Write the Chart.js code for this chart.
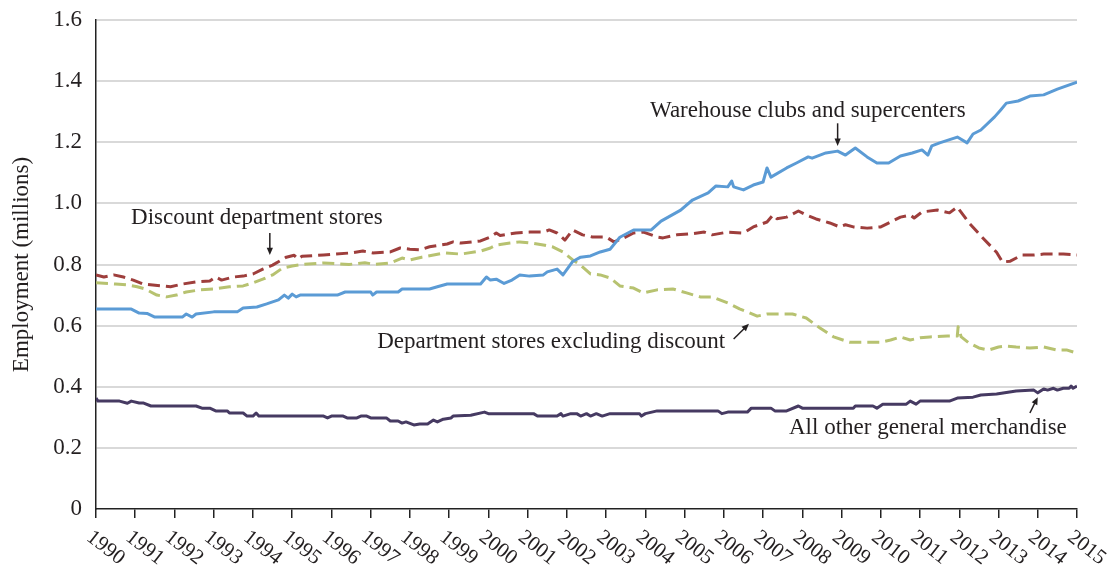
<!DOCTYPE html>
<html>
<head>
<meta charset="utf-8">
<script src="https://cdn.jsdelivr.net/npm/chart.js@4.4.1/dist/chart.umd.min.js"></script>
<style>
  html, body { margin: 0; padding: 0; background: #fff; }
  #wrap { width: 1114px; height: 575px; }
</style>
</head>
<body>
<div id="wrap"><canvas id="employmentChart" width="1114" height="575"></canvas></div>
<script>
// Employment by store type, millions
const whseYears = [1990.0, 1990.9, 1991.1, 1991.3, 1991.5, 1992.2, 1992.3, 1992.45, 1992.55, 1993.0, 1993.6, 1993.75, 1994.1, 1994.35, 1994.65, 1994.8, 1994.9, 1995.0, 1995.1, 1995.2, 1996.15, 1996.35, 1997.0, 1997.05, 1997.15, 1997.7, 1997.8, 1998.5, 1998.7, 1998.95, 1999.8, 1999.95, 2000.05, 2000.2, 2000.4, 2000.6, 2000.8, 2001.05, 2001.4, 2001.5, 2001.75, 2001.9, 2002.15, 2002.35, 2002.6, 2002.85, 2003.1, 2003.35, 2003.7, 2004.15, 2004.4, 2004.9, 2005.2, 2005.6, 2005.8, 2006.1, 2006.2, 2006.25, 2006.5, 2006.75, 2007.0, 2007.1, 2007.2, 2007.6, 2007.85, 2008.15, 2008.25, 2008.6, 2008.9, 2009.1, 2009.35, 2009.65, 2009.9, 2010.2, 2010.5, 2010.8, 2011.05, 2011.2, 2011.3, 2011.5, 2011.95, 2012.2, 2012.35, 2012.55, 2012.9, 2013.05, 2013.2, 2013.5, 2013.8, 2014.15, 2014.5, 2015.0];
const whseValues = [0.654, 0.654, 0.641, 0.640, 0.628, 0.628, 0.638, 0.628, 0.638, 0.645, 0.645, 0.658, 0.661, 0.671, 0.684, 0.700, 0.690, 0.703, 0.694, 0.700, 0.700, 0.710, 0.710, 0.700, 0.710, 0.710, 0.720, 0.720, 0.727, 0.736, 0.736, 0.759, 0.749, 0.752, 0.738, 0.749, 0.766, 0.762, 0.766, 0.776, 0.785, 0.766, 0.810, 0.824, 0.828, 0.841, 0.850, 0.889, 0.913, 0.913, 0.942, 0.978, 1.011, 1.034, 1.057, 1.054, 1.073, 1.054, 1.044, 1.060, 1.070, 1.116, 1.086, 1.116, 1.132, 1.152, 1.148, 1.165, 1.171, 1.158, 1.181, 1.152, 1.132, 1.132, 1.155, 1.165, 1.175, 1.158, 1.188, 1.198, 1.217, 1.198, 1.227, 1.240, 1.283, 1.305, 1.328, 1.335, 1.351, 1.355, 1.374, 1.397];

const discYears = [1990.0, 1990.2, 1990.45, 1990.7, 1990.95, 1991.2, 1991.9, 1992.2, 1992.55, 1992.9, 1993.05, 1993.2, 1993.5, 1993.75, 1994.0, 1994.25, 1994.5, 1994.85, 1995.05, 1995.15, 1995.25, 1995.8, 1996.5, 1996.8, 1997.05, 1997.5, 1997.75, 1998.0, 1998.25, 1998.5, 1998.95, 1999.1, 1999.3, 1999.8, 2000.05, 2000.2, 2000.3, 2000.7, 2001.05, 2001.4, 2001.55, 2001.75, 2001.95, 2002.15, 2002.4, 2002.65, 2003.0, 2003.2, 2003.45, 2003.7, 2003.95, 2004.3, 2004.45, 2004.8, 2005.15, 2005.5, 2005.7, 2006.1, 2006.5, 2006.75, 2007.1, 2007.25, 2007.35, 2007.6, 2007.9, 2008.1, 2008.35, 2008.7, 2008.95, 2009.1, 2009.3, 2009.65, 2010.0, 2010.25, 2010.5, 2010.75, 2010.85, 2011.05, 2011.45, 2011.75, 2011.95, 2012.25, 2012.6, 2012.95, 2013.1, 2013.3, 2013.6, 2013.9, 2014.15, 2014.65, 2015.0];
const discValues = [0.766, 0.759, 0.766, 0.759, 0.749, 0.736, 0.727, 0.736, 0.743, 0.746, 0.759, 0.749, 0.759, 0.762, 0.769, 0.785, 0.798, 0.824, 0.830, 0.818, 0.827, 0.831, 0.838, 0.844, 0.838, 0.841, 0.854, 0.850, 0.848, 0.858, 0.867, 0.874, 0.870, 0.877, 0.890, 0.903, 0.895, 0.903, 0.906, 0.906, 0.913, 0.903, 0.880, 0.913, 0.897, 0.890, 0.890, 0.874, 0.887, 0.903, 0.906, 0.890, 0.887, 0.897, 0.900, 0.906, 0.897, 0.906, 0.903, 0.923, 0.939, 0.962, 0.950, 0.955, 0.975, 0.962, 0.949, 0.936, 0.923, 0.930, 0.923, 0.919, 0.923, 0.939, 0.955, 0.962, 0.952, 0.972, 0.978, 0.969, 0.988, 0.936, 0.887, 0.840, 0.808, 0.811, 0.831, 0.831, 0.834, 0.834, 0.831];

const deptYears = [1990.0, 1990.5, 1990.8, 1991.05, 1991.25, 1991.55, 1991.8, 1992.05, 1992.3, 1992.65, 1993.0, 1993.4, 1993.75, 1994.0, 1994.25, 1994.5, 1994.75, 1995.0, 1995.25, 1995.8, 1996.45, 1996.85, 1997.1, 1997.5, 1997.8, 1998.0, 1998.3, 1998.9, 1999.3, 1999.8, 2000.05, 2000.2, 2000.55, 2000.8, 2001.1, 2001.4, 2001.65, 2001.9, 2002.15, 2002.35, 2002.6, 2002.85, 2003.1, 2003.35, 2003.7, 2003.95, 2004.3, 2004.7, 2005.05, 2005.4, 2005.7, 2006.1, 2006.4, 2006.6, 2006.85, 2007.1, 2007.75, 2008.1, 2008.45, 2008.8, 2009.2, 2010.0, 2010.25, 2010.5, 2010.75, 2011.0, 2011.25, 2011.7, 2011.95, 2011.97, 2012.05, 2012.25, 2012.5, 2012.75, 2013.0, 2013.2, 2013.45, 2013.8, 2014.15, 2014.5, 2014.75, 2015.0];
const deptValues = [0.740, 0.736, 0.733, 0.727, 0.720, 0.700, 0.694, 0.700, 0.710, 0.717, 0.720, 0.727, 0.730, 0.740, 0.752, 0.766, 0.788, 0.795, 0.800, 0.805, 0.800, 0.806, 0.800, 0.805, 0.821, 0.815, 0.824, 0.838, 0.834, 0.844, 0.854, 0.864, 0.870, 0.874, 0.870, 0.864, 0.857, 0.841, 0.815, 0.798, 0.769, 0.766, 0.756, 0.730, 0.723, 0.707, 0.717, 0.720, 0.707, 0.694, 0.694, 0.674, 0.655, 0.645, 0.631, 0.638, 0.638, 0.625, 0.592, 0.563, 0.546, 0.546, 0.553, 0.563, 0.553, 0.560, 0.563, 0.566, 0.566, 0.596, 0.563, 0.543, 0.527, 0.520, 0.530, 0.533, 0.530, 0.527, 0.530, 0.520, 0.520, 0.510];

const otherYears = [1990.0, 1990.05, 1990.6, 1990.8, 1990.9, 1991.1, 1991.2, 1991.4, 1992.55, 1992.7, 1992.9, 1993.05, 1993.35, 1993.4, 1993.75, 1993.85, 1994.0, 1994.08, 1994.15, 1995.8, 1995.9, 1996.0, 1996.3, 1996.4, 1996.65, 1996.75, 1996.9, 1997.0, 1997.4, 1997.5, 1997.7, 1997.8, 1997.9, 1998.1, 1998.25, 1998.45, 1998.6, 1998.7, 1998.85, 1999.05, 1999.1, 1999.55, 1999.9, 2000.0, 2001.15, 2001.25, 2001.75, 2001.85, 2001.9, 2002.1, 2002.25, 2002.35, 2002.5, 2002.6, 2002.75, 2002.9, 2003.1, 2003.85, 2003.9, 2004.0, 2004.3, 2005.85, 2005.95, 2006.1, 2006.6, 2006.7, 2007.2, 2007.3, 2007.6, 2007.9, 2008.0, 2009.3, 2009.35, 2009.8, 2009.9, 2010.05, 2010.65, 2010.75, 2010.9, 2011.0, 2011.75, 2011.95, 2012.35, 2012.55, 2012.95, 2013.45, 2013.9, 2014.0, 2014.15, 2014.25, 2014.4, 2014.5, 2014.65, 2014.8, 2014.85, 2014.9, 2015.0];
const otherValues = [0.363, 0.353, 0.353, 0.346, 0.353, 0.347, 0.347, 0.337, 0.337, 0.330, 0.330, 0.321, 0.321, 0.314, 0.314, 0.304, 0.304, 0.314, 0.304, 0.304, 0.298, 0.304, 0.304, 0.298, 0.298, 0.304, 0.304, 0.298, 0.298, 0.288, 0.288, 0.281, 0.285, 0.275, 0.278, 0.278, 0.291, 0.285, 0.294, 0.298, 0.304, 0.307, 0.317, 0.312, 0.312, 0.304, 0.304, 0.312, 0.304, 0.312, 0.312, 0.304, 0.312, 0.304, 0.312, 0.304, 0.312, 0.312, 0.304, 0.312, 0.321, 0.321, 0.312, 0.317, 0.317, 0.330, 0.330, 0.321, 0.321, 0.337, 0.330, 0.330, 0.337, 0.337, 0.330, 0.343, 0.343, 0.353, 0.343, 0.353, 0.353, 0.363, 0.366, 0.373, 0.376, 0.386, 0.389, 0.380, 0.393, 0.389, 0.395, 0.389, 0.395, 0.395, 0.402, 0.395, 0.402];

// callout labels: text centre and arrow (tail -> head), in data units
const notes = [
  { text: "Warehouse clubs and supercenters", x: 2008.14, y: 1.302, from: [2008.9, 1.262], to: [2008.9, 1.188] },
  { text: "Discount department stores", x: 1994.1, y: 0.952, from: [1994.43, 0.903], to: [1994.43, 0.831] },
  { text: "Department stores excluding discount", x: 2001.6, y: 0.546, from: [2006.25, 0.556], to: [2006.64, 0.606] },
  { text: "All other general merchandise", x: 2011.2, y: 0.265, from: [2013.8, 0.314], to: [2014.0, 0.366] },
];

const FONT = '"Liberation Serif", "Times New Roman", serif';
const INK = "#231f20";

const toPoints = (xs, ys) => xs.map((x, i) => ({ x: x, y: ys[i] }));

// x tick labels slant down to the right, which chart.js can't do on its own
const slantedYears = {
  id: "slantedYears",
  afterDraw(chart) {
    const { ctx } = chart;
    const xs = chart.scales.x;
    ctx.save();
    ctx.font = "21px " + FONT;
    ctx.fillStyle = INK;
    ctx.textAlign = "left";
    ctx.textBaseline = "middle";
    xs.ticks.forEach((t) => {
      const px = xs.getPixelForValue(t.value);
      ctx.save();
      ctx.translate(px - 7, xs.top + 26);
      ctx.rotate((38 * Math.PI) / 180);
      ctx.fillText(String(t.value), 0, 0);
      ctx.restore();
    });
    ctx.restore();
  },
};

const callouts = {
  id: "callouts",
  afterDraw(chart) {
    const { ctx } = chart;
    const { x, y } = chart.scales;
    ctx.save();
    ctx.font = "23px " + FONT;
    ctx.fillStyle = INK;
    ctx.strokeStyle = INK;
    ctx.textAlign = "center";
    ctx.textBaseline = "middle";
    notes.forEach((n) => {
      ctx.fillText(n.text, x.getPixelForValue(n.x), y.getPixelForValue(n.y));
      const x0 = x.getPixelForValue(n.from[0]);
      const y0 = y.getPixelForValue(n.from[1]);
      const x1 = x.getPixelForValue(n.to[0]);
      const y1 = y.getPixelForValue(n.to[1]);
      const a = Math.atan2(y1 - y0, x1 - x0);
      const head = 8;
      ctx.lineWidth = 1.5;
      ctx.beginPath();
      ctx.moveTo(x0, y0);
      ctx.lineTo(x1 - Math.cos(a) * head * 0.6, y1 - Math.sin(a) * head * 0.6);
      ctx.stroke();
      ctx.beginPath();
      ctx.moveTo(x1, y1);
      ctx.lineTo(x1 - head * Math.cos(a - 0.4), y1 - head * Math.sin(a - 0.4));
      ctx.lineTo(x1 - head * Math.cos(a + 0.4), y1 - head * Math.sin(a + 0.4));
      ctx.closePath();
      ctx.fill();
    });
    ctx.restore();
  },
};

const lineStyle = { pointRadius: 0, borderWidth: 3, tension: 0, borderJoinStyle: "round", fill: false };

new Chart(document.getElementById("employmentChart"), {
  type: "line",
  data: {
    datasets: [
      { ...lineStyle, label: "Warehouse clubs and supercenters", data: toPoints(whseYears, whseValues), borderColor: "#5b9bd5" },
      { ...lineStyle, label: "Discount department stores", data: toPoints(discYears, discValues), borderColor: "#9e3e3c", borderDash: [12, 6] },
      { ...lineStyle, label: "Department stores excluding discount", data: toPoints(deptYears, deptValues), borderColor: "#b7c270", borderDash: [12, 6] },
      { ...lineStyle, label: "All other general merchandise", data: toPoints(otherYears, otherValues), borderColor: "#463a62" },
    ],
  },
  options: {
    responsive: false,
    animation: false,
    layout: { padding: { top: 20, right: 37, bottom: 0, left: 0 } },
    plugins: { legend: { display: false }, tooltip: { enabled: false } },
    scales: {
      x: {
        type: "linear",
        min: 1990,
        max: 2015,
        ticks: { stepSize: 1, display: false },
        grid: { drawOnChartArea: false, drawTicks: true, tickLength: 9, color: "#222", lineWidth: 1.5 },
        border: { color: "#222", width: 1.5 },
        afterFit: (s) => { s.height = 66; },
      },
      y: {
        min: 0,
        max: 1.6,
        ticks: {
          stepSize: 0.2,
          padding: 14,
          color: INK,
          font: { family: FONT, size: 23 },
          callback: (v) => (v === 0 ? "0" : v.toFixed(1)),
        },
        grid: {
          drawTicks: false,
          lineWidth: 2,
          color: (c) => (c.tick && c.tick.value === 0 ? "rgba(0,0,0,0)" : "#d9d9d9"),
        },
        border: { color: "#222", width: 1.5 },
        title: {
          display: true,
          text: "Employment (millions)",
          color: INK,
          font: { family: FONT, size: 23 },
          padding: { top: 8, bottom: 0 },
        },
        afterFit: (s) => {
          s.width = 96;
          s.paddingTop = 0;
          s.paddingBottom = 0;
        },
      },
    },
  },
  plugins: [slantedYears, callouts],
});
</script>
</body>
</html>
